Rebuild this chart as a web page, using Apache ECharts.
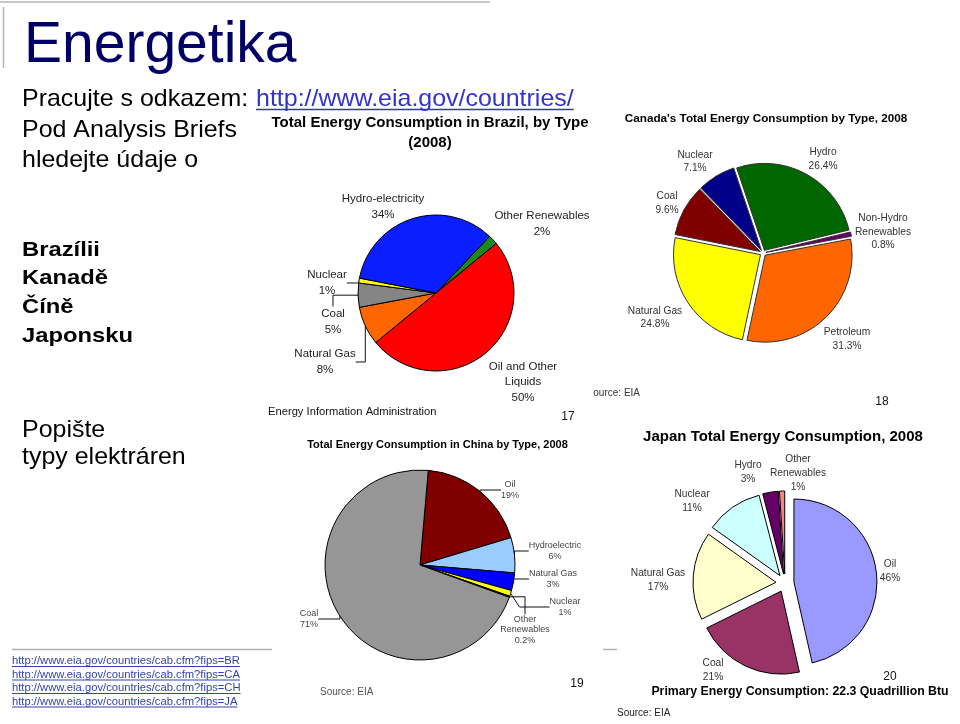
<!DOCTYPE html>
<html>
<head>
<meta charset="utf-8">
<script src="https://cdn.jsdelivr.net/npm/echarts@6/dist/echarts.min.js"></script>
<style>html,body{margin:0;padding:0;background:#fff}#c{width:960px;height:724px}</style>
</head>
<body>
<div id="c"></div>
<script>
// ---------- DATA ----------
const brazilNames  = ['Other Renewables', 'Oil and Other\nLiquids', 'Natural Gas', 'Coal', 'Nuclear', 'Hydro-electricity'];
const brazilValues = [2, 50, 8, 5, 1, 34];

const canadaNames  = ['Hydro', 'Non-Hydro\nRenewables', 'Petroleum', 'Natural Gas', 'Coal', 'Nuclear'];
const canadaValues = [26.4, 0.8, 31.3, 24.8, 9.6, 7.1];

const chinaNames  = ['Oil', 'Hydroelectric', 'Natural Gas', 'Nuclear', 'Other\nRenewables', 'Coal'];
const chinaValues = [19, 6, 3, 1, 0.2, 71];

const japanNames  = ['Oil', 'Coal', 'Natural Gas', 'Nuclear', 'Hydro', 'Other\nRenewables'];
const japanValues = [46, 21, 17, 11, 3, 1];

// ---------- STYLE ----------
const brazilColors = ['#1a8a1a', '#ff0000', '#ff6600', '#858585', '#ffff00', '#0a1eff'];
const canadaColors = ['#006600', '#660066', '#ff6600', '#ffff00', '#800000', '#000088'];
const chinaColors  = ['#800000', '#99ccff', '#0000ff', '#ffff00', '#333333', '#969696'];
const japanColors  = ['#9999ff', '#993366', '#ffffcc', '#ccffff', '#660066', '#ff8080'];

const brazilLeader = [false, false, true, true, true, false];
const canadaLeader = [false, false, false, false, false, false];
const chinaLeader  = [true, true, true, true, true, true];
const japanLeader  = [false, false, false, false, false, false];

// label offsets relative to pie centre (layout)
const brazilLabelOff = [[106,-69],[87,89],[-111,69],[-103,29],[-109,-10],[-53,-86]];
const canadaLabelOff = [[60,-94],[120,-21],[84,86],[-108,64.5],[-96,-50],[-68,-91.5]];
const chinaLabelOff  = [[90,-75],[135,-14],[133,14],[145,42],[105,65],[-111,54]];
const japanLabelOff  = [[105,-12],[-72,87],[-127,-3],[-93,-81.5],[-37,-111],[13,-110]];

const F = '"Liberation Sans", Arial, Helvetica, sans-serif';

function pieBase(cfg) {
  return {
    type: 'pie',
    center: cfg.center,
    radius: cfg.radius,
    startAngle: cfg.startAngle,
    clockwise: true,
    avoidLabelOverlap: false,
    animation: false,
    emphasis: { disabled: true }
  };
}
// slices (optionally exploded), no labels
function sliceSeries(cfg) {
  return Object.assign(pieBase(cfg), {
    selectedMode: cfg.explode ? 'multiple' : false,
    selectedOffset: cfg.explode || 0,
    itemStyle: { borderColor: cfg.border, borderWidth: 1 },
    select: { itemStyle: { borderColor: cfg.border, borderWidth: 1 } },
    label: { show: false },
    labelLine: { show: false },
    data: cfg.names.map((n, i) => ({
      name: n, value: cfg.values[i], selected: !!cfg.explode,
      itemStyle: { color: cfg.colors[i] }
    }))
  });
}
// invisible twin carrying the labels and leader lines
function labelSeries(cfg) {
  return Object.assign(pieBase(cfg), {
    silent: true,
    selectedMode: false,
    itemStyle: { color: 'rgba(0,0,0,0)', borderWidth: 0 },
    label: {
      show: true, position: 'outside', formatter: '{b}\n{c}%',
      fontFamily: F, fontSize: cfg.fontSize, lineHeight: cfg.lineHeight,
      color: cfg.labelColor, align: 'center'
    },
    labelLine: { show: false, smooth: false, lineStyle: { color: '#111', width: 1 } },
    labelLayout: function (p) {
      const o = cfg.labelOff[p.dataIndex];
      return { x: cfg.center[0] + o[0], y: cfg.center[1] + o[1], align: 'center', verticalAlign: 'middle' };
    },
    data: cfg.names.map((n, i) => ({
      name: n, value: cfg.values[i],
      labelLine: { show: !!cfg.leader[i] }
    }))
  });
}

// ---------- helpers for slide text ----------
const mctx = document.createElement('canvas').getContext('2d');
function measure(text, font) { mctx.font = font; return mctx.measureText(text).width; }
function txt(text, x, y, font, fill, align, extra) {
  return Object.assign({
    type: 'text', x: x, y: y, silent: true, z: 10,
    style: { text: text, font: font, fill: fill, align: align || 'left', verticalAlign: 'middle' }
  }, extra || {});
}
function ln(x1, y1, x2, y2, stroke, w) {
  return { type: 'line', silent: true, z: 5, shape: { x1: x1, y1: y1, x2: x2, y2: y2 }, style: { stroke: stroke, lineWidth: w } };
}
function link(text, x, y, size, color, sx, ulOff, ulW) {
  const font = size + 'px ' + F;
  const w = measure(text, font) * (sx || 1);
  return [
    txt(text, x, y, font, color, 'left', { scaleX: sx || 1 }),
    ln(x, y + ulOff, x + w, y + ulOff, color, ulW)
  ];
}

const g = [];
// frame
g.push(ln(0, 2, 490, 2, '#b5b5b5', 1.5));
g.push(ln(3.5, 7, 3.5, 68, '#b5b5b5', 1.5));
// title
g.push(txt('Energetika', 24, 46, '57px ' + F, '#000066'));
// intro lines
const R24 = '24px ' + F;
g.push(txt('Pracujte s odkazem:', 22, 99, R24, '#000', 'left', { scaleX: 1.04 }));
link('http://www.eia.gov/countries/', 256, 99, 24, '#3333cc', 1.04, 10.5, 1.5).forEach(e => g.push(e));
g.push(txt('Pod Analysis Briefs', 22, 130, R24, '#000', 'left', { scaleX: 1.04 }));
g.push(txt('hledejte údaje o', 22, 160, R24, '#000', 'left', { scaleX: 1.04 }));
const B = 'bold 20.5px ' + F;
['Brazílii', 'Kanadě', 'Číně', 'Japonsku'].forEach((s, i) => g.push(txt(s, 22, 250 + i * 28.7, B, '#000', 'left', { scaleX: 1.16 })));
g.push(txt('Popište', 22, 430, R24, '#000', 'left', { scaleX: 1.04 }));
g.push(txt('typy elektráren', 22, 457, R24, '#000', 'left', { scaleX: 1.04 }));
// bottom rule + links
g.push(ln(12, 649.5, 272, 649.5, '#b0b0b0', 1.5));
g.push(ln(603, 649.5, 617, 649.5, '#b0b0b0', 1.5));
['BR', 'CA', 'CH', 'JA'].forEach((c, i) => {
  link('http://www.eia.gov/countries/cab.cfm?fips=' + c, 12, 661 + i * 13.5, 11, '#3344aa', 1.02, 5.5, 1).forEach(e => g.push(e));
});

// Brazil chart texts
g.push(txt('Total Energy Consumption in Brazil, by Type', 430, 123, 'bold 15px ' + F, '#000', 'center'));
g.push(txt('(2008)', 430, 143, 'bold 15px ' + F, '#000', 'center'));
g.push(txt('Energy Information Administration', 268, 412, '11.2px ' + F, '#111'));
g.push(txt('17', 568, 417, '12px ' + F, '#111', 'center'));
// Canada chart texts
g.push(txt("Canada's Total Energy Consumption by Type, 2008", 766, 119, 'bold 11.7px ' + F, '#000', 'center'));
g.push(txt('Source: EIA', 640, 393, '10px ' + F, '#333', 'right'));
g.push({ type: 'rect', silent: true, z: 11, shape: { x: 580, y: 385, width: 13, height: 16 }, style: { fill: '#fff' } });
g.push(txt('18', 882, 402, '12px ' + F, '#111', 'center'));
// China chart texts
g.push(txt('Total Energy Consumption in China by Type, 2008', 437.5, 445, 'bold 11px ' + F, '#000', 'center'));
g.push(txt('Source: EIA', 320, 692, '10px ' + F, '#555'));
g.push(txt('19', 577, 684, '12px ' + F, '#111', 'center'));
// Japan chart texts
g.push(txt('Japan Total Energy Consumption, 2008', 783, 437, 'bold 15px ' + F, '#000', 'center'));
g.push(txt('20', 890, 677, '12px ' + F, '#111', 'center'));
g.push(txt('Primary Energy Consumption: 22.3 Quadrillion Btu', 800, 692, 'bold 12.3px ' + F, '#000', 'center'));
g.push(txt('Source: EIA', 617, 713, '10px ' + F, '#222'));

const brazilCfg = { names: brazilNames, values: brazilValues, colors: brazilColors, leader: brazilLeader, labelOff: brazilLabelOff,
  center: [436, 293], radius: 78, startAngle: 46.6, border: '#000', fontSize: 11.5, lineHeight: 15.5, labelColor: '#222' };
const canadaCfg = { names: canadaNames, values: canadaValues, colors: canadaColors, leader: canadaLeader, labelOff: canadaLabelOff,
  center: [763, 253], radius: 87, startAngle: 108.6, border: '#333', fontSize: 10.2, lineHeight: 13.5, labelColor: '#333', explode: 3 };
const chinaCfg = { names: chinaNames, values: chinaValues, colors: chinaColors, leader: chinaLeader, labelOff: chinaLabelOff,
  center: [420, 565], radius: 95, startAngle: 85, border: '#000', fontSize: 9, lineHeight: 10.5, labelColor: '#444' };
const japanCfg = { names: japanNames, values: japanValues, colors: japanColors, leader: japanLeader, labelOff: japanLabelOff,
  center: [785, 583], radius: 83, startAngle: 90, border: '#000', fontSize: 10.2, lineHeight: 14, labelColor: '#333', explode: 9 };

const chart = echarts.init(document.getElementById('c'), null, { renderer: 'canvas', width: 960, height: 724 });
chart.setOption({
  backgroundColor: '#fff',
  animation: false,
  graphic: { elements: g },
  series: [
    sliceSeries(brazilCfg), labelSeries(brazilCfg),
    sliceSeries(canadaCfg), labelSeries(canadaCfg),
    sliceSeries(chinaCfg),  labelSeries(chinaCfg),
    sliceSeries(japanCfg),  labelSeries(japanCfg)
  ]
});
</script>
</body>
</html>
